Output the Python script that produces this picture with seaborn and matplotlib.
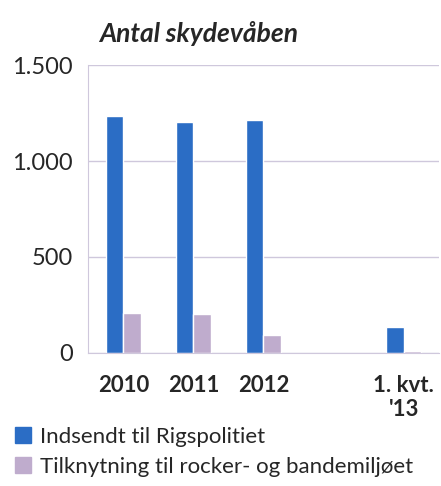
import numpy as np
import pandas as pd
import matplotlib
matplotlib.use("Agg")
import matplotlib.pyplot as plt
import seaborn as sns

# Values
categories = ["2010", "2011", "2012", "", "1. kvt.\n'13"]
indsendt = [1233, 1202, 1212, np.nan, 135]
tilknytning = [207, 202, 93, np.nan, 12]
series_names = ["Indsendt til Rigspolitiet", "Tilknytning til rocker- og bandemiljøet"]
colors = ["#2b6dc5", "#bfaccd"]

df = pd.DataFrame({
    "kategori": categories * 2,
    "antal": indsendt + tilknytning,
    "serie": [series_names[0]] * len(categories) + [series_names[1]] * len(categories),
})

sns.set_style("white")
plt.rcParams["font.family"] = ["Lato", "DejaVu Sans"]

fig = plt.figure(figsize=(4.41, 4.86), dpi=100)
ax = fig.add_axes([0.2, 0.274, 0.795, 0.592])

sns.barplot(data=df, x="kategori", y="antal", hue="serie", order=categories,
            hue_order=series_names, palette=colors, width=0.5, saturation=1,
            ax=ax, legend=False)

ax.set_ylim(0, 1500)
ax.set_xlim(-0.5, len(categories) - 0.5)
ax.set_yticks([0, 500, 1000, 1500])
ax.set_yticklabels(["0", "500", "1.000", "1.500"], fontsize=17)
ax.grid(axis="y", color="#cfc8dc", linewidth=1)
ax.set_axisbelow(True)
for s in ["top", "right"]:
    ax.spines[s].set_visible(False)
for s in ["left", "bottom"]:
    ax.spines[s].set_color("#cfc8dc")
ax.tick_params(axis="y", length=0, pad=11)
ax.set_xticks(range(len(categories)))
ax.set_xticklabels(categories, fontsize=16, fontweight="bold")
ax.set_xticks(np.arange(-0.5, len(categories), 1), minor=True)
ax.tick_params(axis="x", which="major", length=0, pad=16)
ax.tick_params(axis="x", which="minor", length=5, color="#cfc8dc", direction="out")
ax.set_xlabel("")
ax.set_ylabel("")

fig.text(0.225, 0.932, "Antal skydevåben", fontsize=19, fontweight="bold",
         fontstyle="italic", ha="left", va="center")

handles = [plt.Rectangle((0, 0), 1, 1, color=c) for c in colors]
fig.legend(handles, series_names, loc="upper left", bbox_to_anchor=(0.035, 0.122),
           frameon=False, fontsize=16, handlelength=0.7, handleheight=0.7,
           handletextpad=0.4, labelspacing=0.45, borderaxespad=0, borderpad=0)

fig.savefig("out.png", dpi=100)
